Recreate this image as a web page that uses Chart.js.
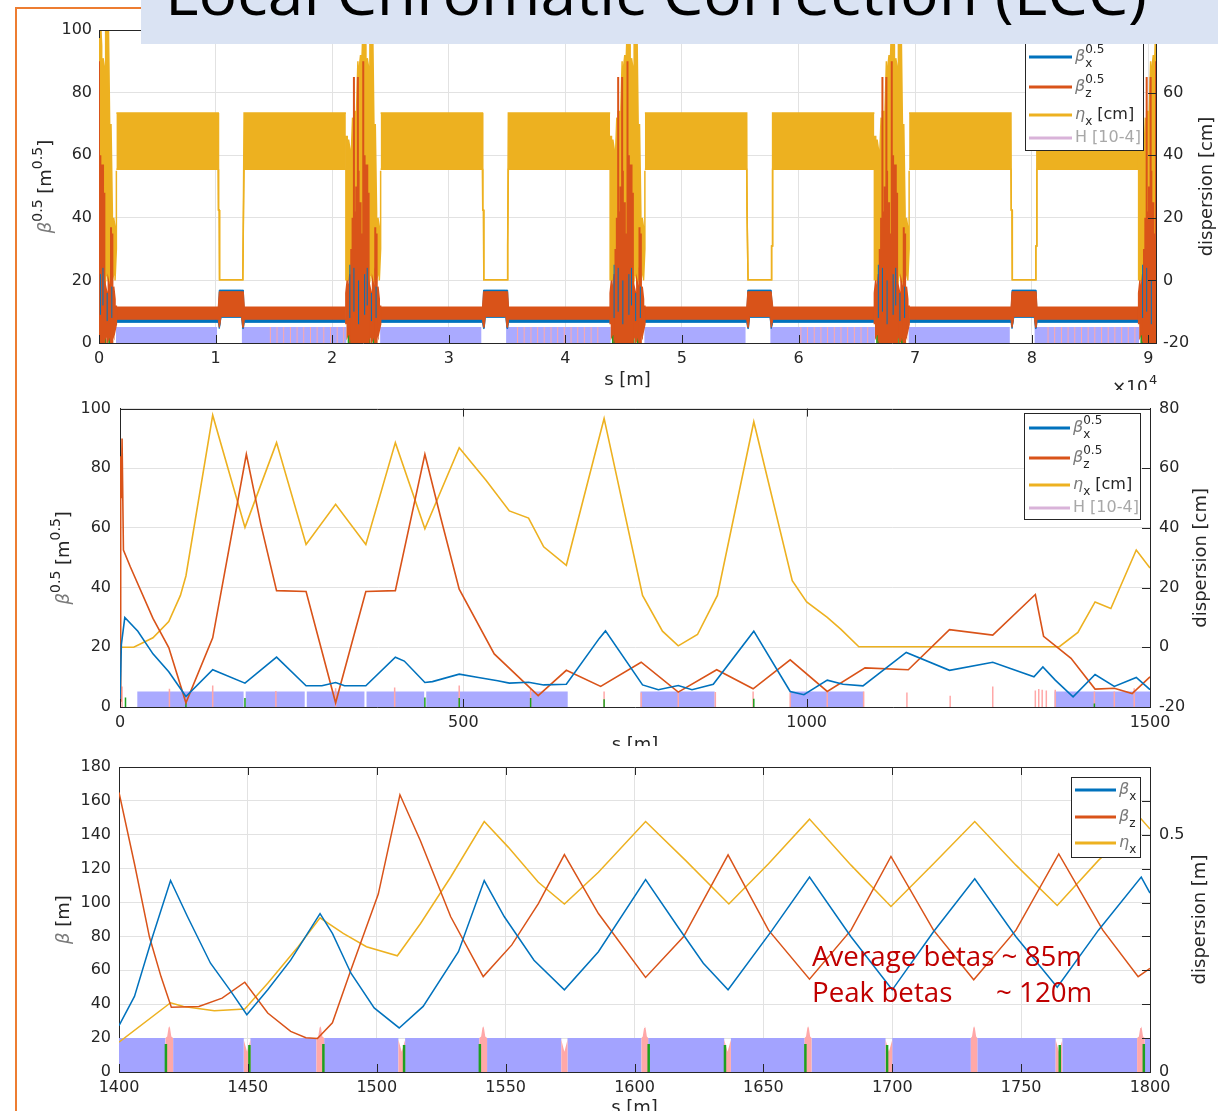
<!DOCTYPE html>
<html>
<head>
<meta charset="utf-8">
<title>Local Chromatic Correction (LCC)</title>
<script src="https://cdn.jsdelivr.net/npm/chart.js@4.4.1/dist/chart.umd.min.js"></script>
<style>
  html, body { margin: 0; padding: 0; background: #fff; width: 1218px; height: 1111px; overflow: hidden; }
  #frame { position: absolute; left: 15px; top: 7px; width: 3000px; height: 3000px;
           border-left: 2px solid #ed7d31; border-top: 2px solid #ed7d31; }
  canvas { position: absolute; left: 0; }
  #c1 { top: 0; } #c2 { top: 390px; } #c3 { top: 746px; }
  #head { left: 141px; top: 0; }
</style>
</head>
<body>
<div id="frame"></div>
<canvas id="c1" width="1218" height="390"></canvas>
<canvas id="c2" width="1218" height="356"></canvas>
<canvas id="c3" width="1218" height="365"></canvas>
<canvas id="head" width="1077" height="44"></canvas>
<script>
// ================= DATA =================
const TITLE = 'Local Chromatic Correction (LCC)';

// ---- top panel: full ring (s in m) ----
const ringLength = 90660;
const topXTicks = [0, 10000, 20000, 30000, 40000, 50000, 60000, 70000, 80000, 90000];
const topYTicks = [0, 20, 40, 60, 80, 100];
const topY2Ticks = [-20, 0, 20, 40, 60, 80];
const irCentres = [0, 22665, 45330, 67995, 90660];
const ssCentres = [11375, 34040, 56705, 79370];
const irHalf = 1490;
// arc values (band limits)
const arcEtaHi = 53.5, arcEtaLo = 35.5;     // cm
const arcBzHi = 11.5, arcBzLo = 7.6;        // m^0.5
const arcBxHi = 7.6, arcBxLo = 6.6;
// straight sections (offset from centre, m)
const ssEtaOff = [-1150, -1125, -1060, -1035, 960, 985, 1040, 1070];
const ssEtaHi  = [53.5, 22.5, 22.5, 0.2, 0.2, 11, 11, 53.5];
const ssEtaLo  = [35.5, 22.5, 22.5, 0.2, 0.2, 11, 11, 35.5];
const ssBOff   = [-1150, -1060, -1000, -900, 850, 950, 1010, 1090];
const ssBzHi   = [11.5, 16.4, 16.4, 16.4, 16.4, 16.4, 16.4, 11.5];
const ssBzLo   = [7.6, 5.0, 5.0, 8.5, 8.5, 5.0, 5.0, 7.6];
const ssBxHi   = [7.6, 16.9, 16.9, 16.9, 16.9, 16.9, 16.9, 7.6];
const ssBxLo   = [6.6, 4.6, 4.6, 8.2, 8.2, 4.6, 4.6, 6.6];
// interaction regions (offset from IP, m)
const irOff      = [-1490, -1375, -1260, -1145, -1030, -915, -800, -685, -570, -460, -345, -230, -115, 0, 115, 230, 345, 460, 570, 685, 800, 915, 1030, 1145, 1260, 1375, 1490];
const irEtaHi    = [46, 46, 45, 42, 40, 52, 54, 54, 55, 70, 68, 72, 70, 84, 84, 75, 71, 68, 84, 84, 84, 50, 50, 22, 20, 17, 35];
const irEtaLo    = [0, 0, 0, 0, 0, -2, 0, 2, 0, -2, 0, -4, 0, -2, 0, 2, 0, -2, 0, 2, 0, 0, 2, 0, 2, 0, 10];
const irBzBaseHi = [16, 20, 18, 22, 20, 18, 22, 20, 16, 20, 18, 14, 12, 16, 20, 18, 22, 20, 18, 16, 20, 18, 22, 20, 18, 14, 12];
const irBzBaseLo = [6, 2, 3, 1, 2, 0, 2, 1, 3, 0, 2, 1, 0, 1, 2, 0, 3, 1, 2, 0, 1, 2, 0, 3, 2, 4, 6];
const irBzPeakOff = [-1030, -915, -800, -740, -600, -460, -400, -230, -60, 0, 115, 230, 345, 460, 1030, 1145];
const irBzPeak    = [30, 40, 85, 42, 50, 85, 55, 45, 35, 90, 60, 57, 57, 48, 37, 35];
const irBxOff = [-1150, -800, -400, 120, 340, 700, 1100];
const irBxHi  = [25, 24, 20, 22, 24, 16, 18];
const irBxLo  = [8, 10, 6, 9, 12, 7, 8];
const irSextOff = [-1250, -1150, -1050, -450, -380, -300, 290, 400, 520, 880, 960];
const irSextH   = [3, 3, 3, 3, 3, 3, 3, 3, 3, 3, 3];
// lattice elements along the ring
const topDipStart = [1450, 12255, 24115, 34920, 46780, 57585, 69445, 80250];
const topDipEnd   = [10125, 21215, 32790, 43880, 55455, 66545, 78120, 89210];
const topDipH = 5.1;
const topQuadS = [14700, 15270, 15840, 16420, 16990, 17560, 18140, 18710, 19280, 19860, 20430, 20990,
                  35900, 36470, 37050, 37620, 38190, 38770, 39340, 39910, 40490, 41060, 41630, 42210, 42780,
                  60200, 60770, 61350, 61920, 62490, 63070, 63640, 64210, 64790, 65360, 65930,
                  81400, 81970, 82550, 83120, 83690, 84270, 84840, 85410, 85990, 86560, 87130, 87710, 88280, 88850];

// ---- middle panel: first 1500 m ----
const midXTicks = [0, 500, 1000, 1500];
const midYTicks = [0, 20, 40, 60, 80, 100];
const midY2Ticks = [-20, 0, 20, 40, 60, 80];
const midBxS = [0, 2, 7, 26, 48, 71, 96, 135, 182, 228, 271, 294, 314, 327, 358, 401, 414, 444, 455, 494, 522, 550, 567, 595, 617, 650, 698, 707, 761, 784, 813, 833, 864, 923, 976, 996, 1030, 1053, 1082, 1145, 1208, 1271, 1331, 1344, 1362, 1388, 1420, 1448, 1480, 1500];
const midBx  = [2, 21, 30, 25.4, 17.8, 11.8, 3.5, 12.5, 8, 16.7, 7.1, 7.1, 8.2, 7.1, 7.1, 16.7, 15.4, 8.2, 8.5, 11, 9.9, 8.8, 8, 8.3, 7.4, 7.6, 23, 25.5, 7.4, 5.8, 7.2, 5.8, 7.6, 25.4, 5.2, 4.1, 9, 7.6, 7.1, 18.3, 12.3, 15, 10.1, 13.4, 9, 3.4, 10.9, 6.9, 9.9, 5.8];
const midBzS = [0, 1, 2, 3, 5, 15, 48, 71, 96, 135, 184, 205, 228, 271, 314, 358, 401, 444, 467, 494, 545, 609, 650, 700, 759, 813, 869, 922, 976, 1030, 1085, 1148, 1208, 1271, 1333, 1345, 1385, 1420, 1448, 1474, 1500];
const midBz  = [2, 84, 70, 90, 52.6, 47, 29.7, 19.9, 1.4, 23.2, 84.7, 61.3, 39, 38.7, 1.4, 38.7, 39, 84.7, 63.5, 39.5, 17.8, 3.8, 12.3, 6.9, 15, 5, 12.5, 6.1, 15.8, 5.2, 13.1, 12.5, 25.9, 24.1, 37.7, 23.7, 16.3, 6, 6.3, 4.5, 10.1];
const midEtaS = [0, 20, 48, 71, 88, 96, 135, 182, 228, 271, 314, 358, 401, 444, 494, 533, 567, 595, 617, 650, 705, 761, 790, 813, 841, 870, 923, 979, 1000, 1030, 1050, 1076, 1368, 1395, 1420, 1443, 1480, 1500];
const midEta  = [0, 0, 3.2, 8.6, 17.4, 23.9, 77.8, 40.2, 68.6, 34.5, 47.9, 34.5, 68.6, 39.7, 66.9, 56, 45.7, 43.3, 33.7, 27.5, 76.7, 17.4, 5.4, 0.5, 4.3, 17.4, 75.6, 22.3, 15.2, 10, 6, 0.2, 0.2, 5, 15.2, 13, 32.6, 26.6];
const midDipStart = [25, 183, 272, 359, 446, 758, 976, 1361];
const midDipEnd   = [180, 269, 356, 443, 652, 866, 1083, 1500];
const midDipH = 5.2;
const midQuadS = [3, 72, 135, 227, 314, 400, 494, 598, 705, 759, 813, 867, 922, 976, 1030, 1083, 1146, 1209, 1271, 1333, 1338, 1343, 1349, 1362, 1419, 1448, 1477];
const midQuadH = [6.9, 6.1, 7.2, 5.4, 6.3, 6.5, 7.2, 6, 5.2, 4.9, 5.2, 5, 5.2, 4.9, 5.2, 5.2, 4.9, 3.8, 6.9, 5.5, 6, 5.8, 5.5, 5.8, 5.2, 5.2, 6.3];
const midSextS = [8, 96, 182, 444, 494, 598, 705, 923, 1419];
const midSextH = [3.2, 1.5, 3.0, 3.2, 3.0, 3.0, 2.6, 2.8, 1.2];

// ---- bottom panel: LCC cells 1400-1800 m ----
const botXTicks = [1400, 1450, 1500, 1550, 1600, 1650, 1700, 1750, 1800];
const botYTicks = [0, 20, 40, 60, 80, 100, 120, 140, 160, 180];
const botY2Ticks = [0, 0.0714, 0.1429, 0.2143, 0.2857, 0.3571, 0.4286, 0.5, 0.5714, 0.6429];
const botY2Labels = ['0', '', '', '', '', '', '', '0.5', '', ''];
const botBxS = [1400, 1406, 1413, 1420, 1426.6, 1435.5, 1443, 1449.6, 1457.7, 1466.6, 1478, 1482.8, 1490, 1499, 1508.7, 1518, 1531.7, 1541.7, 1549.5, 1561, 1572.8, 1586, 1604.3, 1616.8, 1626.7, 1636.3, 1653.4, 1667.9, 1684, 1700, 1716, 1732, 1748, 1764, 1780, 1796.6, 1800];
const botBx  = [27.4, 44.6, 79.8, 113, 91.6, 64.2, 48.5, 33.8, 48.5, 66, 93.5, 81.8, 58.3, 37.8, 26, 38.7, 71, 113, 91.6, 66, 48.5, 71, 113.5, 85.7, 64.2, 48.5, 83.7, 115, 79.8, 48.5, 82.8, 114, 79.8, 50, 83.7, 115, 105.6];
const botBzS = [1400, 1406, 1411.8, 1416.3, 1420.3, 1431, 1440, 1448.8, 1457.7, 1466.6, 1472.5, 1477, 1482.8, 1490, 1500.6, 1509, 1516.9, 1528.7, 1541.3, 1552.4, 1562.7, 1572.8, 1586, 1604.3, 1619, 1636.3, 1652, 1667.9, 1684, 1699.5, 1716, 1731.6, 1748, 1764.6, 1781.7, 1795.4, 1800];
const botBz  = [165, 122.9, 79.8, 56.3, 38.2, 38.7, 43.6, 53, 34.8, 24, 20.2, 19.8, 29, 60.3, 105, 163.6, 136.6, 91.6, 56.3, 75, 99.4, 128.3, 93.5, 55.8, 79.8, 128.2, 83.7, 54.8, 83.7, 127.2, 83.7, 54.4, 83.7, 128.7, 83.7, 56.3, 61.2];
const botEtaS = [1400, 1420, 1425, 1437, 1448.8, 1457.7, 1469.5, 1478, 1487, 1496, 1508, 1517, 1528.7, 1541.7, 1551, 1562.7, 1572.8, 1586, 1604.3, 1619.8, 1636.6, 1652, 1667.9, 1684, 1699.5, 1716, 1732, 1748, 1764, 1780, 1796.6, 1800];
const botEta  = [0.063, 0.146, 0.138, 0.129, 0.133, 0.187, 0.264, 0.325, 0.292, 0.264, 0.245, 0.313, 0.411, 0.528, 0.474, 0.4, 0.354, 0.421, 0.528, 0.446, 0.354, 0.439, 0.533, 0.436, 0.349, 0.439, 0.528, 0.436, 0.351, 0.446, 0.533, 0.512];
const botDipStart = [1400, 1421, 1451, 1479.6, 1511, 1542.8, 1574, 1605.3, 1637.4, 1668.7, 1700, 1733, 1766, 1798];
const botDipEnd   = [1418, 1448.4, 1476.6, 1508.4, 1539.8, 1571.6, 1602.7, 1634.8, 1666, 1697.4, 1730.5, 1763.4, 1795, 1800];
const botDipH = 20;
const botQfStart = [1418, 1476.6, 1539.8, 1602.7, 1666, 1730.5, 1795];
const botQfEnd   = [1421, 1479.6, 1542.8, 1605.3, 1668.7, 1733, 1798];
const botQfPeak = 27, botQfBody = 20;
const botQdStart = [1448.4, 1508.4, 1571.6, 1634.8, 1697.4, 1763.4];
const botQdEnd   = [1451, 1511, 1574, 1637.4, 1700, 1766];
const botQdTop = 19, botQdDip = 12;
const botSextS = [1418.2, 1450.6, 1479.3, 1510.6, 1540, 1605.5, 1635.1, 1666.3, 1698, 1765, 1797.6];
const botSextH = [16.5, 16, 16.5, 16, 16.5, 16.5, 16, 16.5, 16, 16, 16.5];

// ================= STYLE =================
const BLUE = '#0072bd', RED = '#d95319', YEL = '#edb120', HCOL = '#d9b3d9';
const AXIS = '#262626', GRID = '#e2e2e2';
const DIP_TOP = '#aaaaff', DIP_BOT = '#a3a3ff', QUAD = '#ffa8a8', SEXT = '#1ea01e';
const FONT = '"DejaVu Sans", sans-serif';

// ================= BUILDERS =================
const pts = (xs, ys) => xs.map((x, i) => ({ x, y: ys[i] }));

// band edge running through every arc, with the straight-section profile in the middle
function arcEdge(bandVal, offs, vals) {
  const out = [];
  for (let k = 0; k < ssCentres.length; k++) {
    out.push({ x: irCentres[k] + irHalf, y: bandVal });
    offs.forEach((o, j) => out.push({ x: ssCentres[k] + o, y: vals[j] }));
    out.push({ x: irCentres[k + 1] - irHalf, y: bandVal });
    out.push({ x: irCentres[k + 1] - irHalf, y: null });
  }
  return out;
}
// dense comb through each interaction region
function irComb(offs, hi, lo) {
  const out = [];
  irCentres.forEach(c => {
    offs.forEach((o, j) => {
      if (j % 2 === 0) out.push({ x: c + o, y: lo[j] }, { x: c + o, y: hi[j] });
      else out.push({ x: c + o, y: hi[j] }, { x: c + o, y: lo[j] });
    });
    out.push({ x: c + offs[offs.length - 1], y: null });
  });
  return out;
}
// isolated vertical strokes
function strokes(xs, hi, lo) {
  const out = [];
  xs.forEach((x, i) => {
    out.push({ x, y: lo ? lo[i] : 0 }, { x, y: hi[i] }, { x, y: null });
  });
  return out;
}
function irStrokes(offs, hi, lo) {
  const xs = [], h = [], l = [];
  irCentres.forEach(c => offs.forEach((o, j) => { xs.push(c + o); h.push(hi[j]); l.push(lo ? lo[j] : 0); }));
  return strokes(xs, h, l);
}
// rectangular element blocks, filled down to zero
function blocks(starts, ends, h) {
  const out = [];
  starts.forEach((s, i) => {
    out.push({ x: s, y: 0 }, { x: s, y: h }, { x: ends[i], y: h }, { x: ends[i], y: 0 });
  });
  return out;
}
function qfShapes() {
  const out = [];
  botQfStart.forEach((s, i) => {
    const e = botQfEnd[i], m = (s + e) / 2;
    out.push({ x: s, y: 0 }, { x: s, y: botQfBody }, { x: m - 0.8, y: botQfBody + 1 },
             { x: m - 0.3, y: botQfPeak - 1 }, { x: m, y: botQfPeak }, { x: m + 0.3, y: botQfPeak - 1 },
             { x: m + 0.8, y: botQfBody + 1 }, { x: e, y: botQfBody }, { x: e, y: 0 });
  });
  return out;
}
function qdShapes() {
  const out = [];
  botQdStart.forEach((s, i) => {
    const e = botQdEnd[i], m = (s + e) / 2;
    out.push({ x: s, y: 0 }, { x: s, y: botQdTop }, { x: m, y: botQdDip }, { x: e, y: botQdTop }, { x: e, y: 0 });
  });
  return out;
}

function ds(data, color, width, order, extra) {
  return Object.assign({
    type: 'line', data, borderColor: color, backgroundColor: color, borderWidth: width,
    pointRadius: 0, pointHoverRadius: 0, tension: 0, fill: false, order, yAxisID: 'y',
    spanGaps: false, borderJoinStyle: 'miter'
  }, extra || {});
}
function area(data, color, order, extra) {
  return ds(data, color, 0, order, Object.assign({ fill: 'origin', backgroundColor: color }, extra || {}));
}

// ================= RICH TEXT =================
function setFont(ctx, p, base) {
  ctx.font = (p.it ? 'italic ' : '') + (p.sz || base) + 'px ' + FONT;
}
function richWidth(ctx, parts, base) {
  let w = 0;
  parts.forEach(p => { setFont(ctx, p, base); if (p.adv !== false) w += ctx.measureText(p.t).width; });
  return w;
}
function drawRich(ctx, x, y, parts, base) {
  let cx = x;
  ctx.textBaseline = 'middle'; ctx.textAlign = 'left';
  parts.forEach(p => {
    setFont(ctx, p, base);
    ctx.fillStyle = p.c || AXIS;
    ctx.fillText(p.t, cx, y + (p.dy || 0));
    if (p.adv !== false) cx += ctx.measureText(p.t).width;
  });
}
const GREEK = '#7a7a7a';
const betaSqrt = sub => [{ t: 'β', it: true, c: GREEK }, { t: sub, sz: 12, dy: 7, adv: false }, { t: '0.5', sz: 12, dy: -7 }];
const betaPlain = sub => [{ t: 'β', it: true, c: GREEK }, { t: sub, sz: 12, dy: 7 }];
const etaLabel = (unit) => [{ t: 'η', it: true, c: GREEK }, { t: 'x', sz: 12, dy: 7 }].concat(unit ? [{ t: ' ' + unit }] : []);

// ================= PLUGIN: axes box, inward ticks, titles, legend =================
const decor = {
  id: 'decor',
  afterDatasetsDraw(chart, args, o) {
    const { ctx, chartArea: a, scales } = chart;
    ctx.save();
    ctx.strokeStyle = AXIS; ctx.lineWidth = 1;
    ctx.beginPath();
    ctx.moveTo(a.left, Math.round(a.top) + 0.5); ctx.lineTo(a.right, Math.round(a.top) + 0.5);
    scales.x.ticks.forEach(t => {
      const px = Math.round(scales.x.getPixelForValue(t.value)) + 0.5;
      ctx.moveTo(px, a.bottom); ctx.lineTo(px, a.bottom - 8);
      ctx.moveTo(px, a.top); ctx.lineTo(px, a.top + 8);
    });
    scales.y2.ticks.forEach(t => {
      const py = Math.round(scales.y2.getPixelForValue(t.value)) + 0.5;
      ctx.moveTo(a.right, py); ctx.lineTo(a.right - 8, py);
    });
    ctx.stroke();
    ctx.restore();
  },
  afterDraw(chart, args, o) {
    const { ctx, chartArea: a } = chart;
    ctx.save();
    const midY = (a.top + a.bottom) / 2, midX = (a.left + a.right) / 2;
    // left title
    ctx.save();
    ctx.translate(o.yTitleX, midY); ctx.rotate(-Math.PI / 2);
    const wl = richWidth(ctx, o.yTitle, 18);
    drawRich(ctx, -wl / 2, 0, o.yTitle, 18);
    ctx.restore();
    // right title
    ctx.save();
    ctx.translate(o.y2TitleX, midY); ctx.rotate(-Math.PI / 2);
    ctx.font = '18px ' + FONT; ctx.fillStyle = AXIS; ctx.textAlign = 'center'; ctx.textBaseline = 'middle';
    ctx.fillText(o.y2Title, 0, 0);
    ctx.restore();
    // x title
    ctx.font = '18px ' + FONT; ctx.fillStyle = AXIS; ctx.textAlign = 'center'; ctx.textBaseline = 'middle';
    ctx.fillText('s [m]', midX, a.bottom + o.xTitleDy);
    if (o.exponent) {
      ctx.textAlign = 'left'; ctx.textBaseline = 'alphabetic';
      ctx.font = '17px ' + FONT; ctx.fillText('×10', o.exponent[0], o.exponent[1]);
      const w = ctx.measureText('×10').width;
      ctx.font = '13px ' + FONT; ctx.fillText('4', o.exponent[0] + w + 1, o.exponent[1] - 9);
    }
    // legend
    const L = o.legend;
    ctx.fillStyle = '#fff'; ctx.fillRect(L.box[0], L.box[1], L.box[2] - L.box[0], L.box[3] - L.box[1]);
    ctx.strokeStyle = AXIS; ctx.lineWidth = 1;
    ctx.strokeRect(L.box[0] + 0.5, L.box[1] + 0.5, L.box[2] - L.box[0], L.box[3] - L.box[1]);
    L.items.forEach(it => {
      ctx.strokeStyle = it.color; ctx.lineWidth = 3;
      ctx.beginPath(); ctx.moveTo(L.line[0], it.y); ctx.lineTo(L.line[1], it.y); ctx.stroke();
      drawRich(ctx, L.textX, it.y, it.parts, 16);
    });
    // note
    if (o.note) {
      const n = o.note;
      ctx.fillStyle = '#c00000'; ctx.textBaseline = 'alphabetic'; ctx.textAlign = 'left';
      ctx.font = '28px "Open Sans", sans-serif';
      const sx = n.width / ctx.measureText(n.lines[0]).width;
      n.rows.forEach(r => {
        ctx.save(); ctx.translate(r[1], r[2]); ctx.scale(sx, 1);
        ctx.fillText(r[0], 0, 0); ctx.restore();
      });
    }
    ctx.restore();
  }
};

// ================= CHART FACTORY =================
function axisOpts(min, max, ticks, labelFn, pos, size, pad, grid) {
  return {
    type: 'linear', position: pos, min, max,
    afterBuildTicks: ax => { ax.ticks = ticks.map(v => ({ value: v })); },
    afterFit: s => { if (pos === 'bottom') s.height = size; else s.width = size; },
    ticks: { callback: labelFn, color: AXIS, font: { family: FONT, size: 16 }, padding: pad, autoSkip: false, maxRotation: 0, minRotation: 0 },
    grid: { display: grid, color: GRID, lineWidth: 1, drawTicks: false },
    border: { display: true, color: AXIS, width: 1 }
  };
}
function makeChart(id, cfg) {
  return new Chart(document.getElementById(id), {
    type: 'line',
    data: { datasets: cfg.datasets },
    options: {
      responsive: false, animation: false, events: [],
      layout: { autoPadding: false, padding: { top: cfg.padTop, left: 0, right: 0, bottom: 0 } },
      scales: { x: cfg.x, y: cfg.y, y2: cfg.y2 },
      plugins: { legend: { display: false }, tooltip: { enabled: false }, decor: cfg.decor }
    },
    plugins: [decor]
  });
}

// ---------- top panel ----------
makeChart('c1', {
  padTop: 30,
  x: axisOpts(0, ringLength, topXTicks, v => String(Math.round(v / 10000)), 'bottom', 47, 6, true),
  y: axisOpts(0, 100, topYTicks, v => String(v), 'left', 99, 7, true),
  y2: axisOpts(-20, 80, topY2Ticks, v => String(v), 'right', 62, 7, false),
  datasets: [
    area(blocks(topDipStart, topDipEnd, topDipH), DIP_TOP, 100),
    ds(strokes(topQuadS, topQuadS.map(() => topDipH)), QUAD, 1, 95),
    ds(irStrokes(irSextOff, irSextH), SEXT, 2, 94),
    ds(arcEdge(arcEtaHi, ssEtaOff, ssEtaHi), YEL, 1.5, 80, { yAxisID: 'y2', fill: '+1', backgroundColor: YEL }),
    ds(arcEdge(arcEtaLo, ssEtaOff, ssEtaLo), YEL, 1.5, 80, { yAxisID: 'y2' }),
    ds(irComb(irOff, irEtaHi, irEtaLo), YEL, 1.5, 78, { yAxisID: 'y2' }),
    ds(arcEdge(arcBxHi, ssBOff, ssBxHi), BLUE, 1, 70, { fill: '+1', backgroundColor: BLUE }),
    ds(arcEdge(arcBxLo, ssBOff, ssBxLo), BLUE, 1, 70),
    ds(arcEdge(arcBzHi, ssBOff, ssBzHi), RED, 1, 60, { fill: '+1', backgroundColor: RED }),
    ds(arcEdge(arcBzLo, ssBOff, ssBzLo), RED, 1, 60),
    ds(irComb(irOff, irBzBaseHi, irBzBaseLo), RED, 1.5, 58),
    ds(irStrokes(irBzPeakOff, irBzPeak), RED, 2, 56),
    ds(irStrokes(irBxOff, irBxHi, irBxLo), BLUE, 1, 50)
  ],
  decor: {
    yTitle: [{ t: 'β', it: true, c: GREEK }, { t: '0.5', sz: 14, dy: -8 }, { t: ' [m' }, { t: '0.5', sz: 14, dy: -8 }, { t: ']' }],
    yTitleX: 46, y2Title: 'dispersion [cm]', y2TitleX: 1207, xTitleDy: 37,
    exponent: [1112, 393],
    legend: {
      box: [1025, 30, 1143, 150], line: [1029, 1072], textX: 1075,
      items: [
        { y: 57, color: BLUE, parts: betaSqrt('x') },
        { y: 87, color: RED, parts: betaSqrt('z') },
        { y: 115, color: YEL, parts: etaLabel('[cm]') },
        { y: 138, color: HCOL, parts: [{ t: 'H [10-4]', c: '#a8a8a8' }] }
      ]
    }
  }
});

// ---------- middle panel ----------
const OFF2 = 390;
makeChart('c2', {
  padTop: 401 - OFF2,
  x: axisOpts(0, 1500, midXTicks, v => String(v), 'bottom', 39, 6, true),
  y: axisOpts(0, 100, midYTicks, v => String(v), 'left', 120, 9, true),
  y2: axisOpts(-20, 80, midY2Ticks, v => String(v), 'right', 68, 9, false),
  datasets: [
    area(blocks(midDipStart, midDipEnd, midDipH), DIP_TOP, 100),
    ds(strokes(midQuadS, midQuadH), QUAD, 1.5, 95),
    ds(strokes(midSextS, midSextH), SEXT, 1.5, 94),
    ds(pts(midEtaS, midEta), YEL, 1.6, 60, { yAxisID: 'y2' }),
    ds(pts(midBzS, midBz), RED, 1.6, 55),
    ds(pts(midBxS, midBx), BLUE, 1.6, 50)
  ],
  decor: {
    yTitle: [{ t: 'β', it: true, c: GREEK }, { t: '0.5', sz: 14, dy: -8 }, { t: ' [m' }, { t: '0.5', sz: 14, dy: -8 }, { t: ']' }],
    yTitleX: 64, y2Title: 'dispersion [cm]', y2TitleX: 1201, xTitleDy: 38,
    legend: {
      box: [1024, 413 - OFF2, 1140, 519 - OFF2], line: [1029, 1070], textX: 1073,
      items: [
        { y: 428 - OFF2, color: BLUE, parts: betaSqrt('x') },
        { y: 458 - OFF2, color: RED, parts: betaSqrt('z') },
        { y: 485 - OFF2, color: YEL, parts: etaLabel('[cm]') },
        { y: 508 - OFF2, color: HCOL, parts: [{ t: 'H [10-4]', c: '#a8a8a8' }] }
      ]
    }
  }
});

// ---------- bottom panel ----------
const OFF3 = 746;
makeChart('c3', {
  padTop: 767 - OFF3,
  x: axisOpts(1400, 1800, botXTicks, v => String(v), 'bottom', 39, 6, true),
  y: axisOpts(0, 180, botYTicks, v => String(v), 'left', 119, 8, true),
  y2: axisOpts(0, 0.642857, botY2Ticks, (v, i) => botY2Labels[i], 'right', 68, 9, false),
  datasets: [
    area(blocks(botDipStart, botDipEnd, botDipH), DIP_BOT, 100),
    area(qfShapes(), QUAD, 98),
    area(qdShapes(), QUAD, 98),
    ds(strokes(botSextS, botSextH), SEXT, 2.5, 94),
    ds(pts(botEtaS, botEta), YEL, 1.5, 60, { yAxisID: 'y2' }),
    ds(pts(botBzS, botBz), RED, 1.5, 55),
    ds(pts(botBxS, botBx), BLUE, 1.5, 50)
  ],
  decor: {
    yTitle: [{ t: 'β', it: true, c: GREEK }, { t: ' [m]' }],
    yTitleX: 64, y2Title: 'dispersion [m]', y2TitleX: 1200, xTitleDy: 36,
    legend: {
      box: [1071, 777 - OFF3, 1140, 857 - OFF3], line: [1075, 1116], textX: 1119,
      items: [
        { y: 790 - OFF3, color: BLUE, parts: betaPlain('x') },
        { y: 817 - OFF3, color: RED, parts: betaPlain('z') },
        { y: 843 - OFF3, color: YEL, parts: etaLabel('') }
      ]
    },
    note: {
      width: 270,
      lines: ['Average betas ~ 85m'],
      rows: [['Average betas ~ 85m', 812, 966 - OFF3], ['Peak betas', 812, 1002 - OFF3], ['~ 120m', 996, 1002 - OFF3]]
    }
  }
});

// ---------- heading ----------
(function () {
  const c = document.getElementById('head'), x = c.getContext('2d');
  x.fillStyle = '#dae3f3'; x.fillRect(0, 0, c.width, c.height);
  x.font = '60px "Open Sans", sans-serif';
  const sx = 982 / x.measureText(TITLE).width;
  x.save(); x.translate(24, 15); x.scale(sx, 1);
  x.fillStyle = '#000'; x.textBaseline = 'alphabetic'; x.fillText(TITLE, 0, 0);
  x.restore();
})();
</script>
</body>
</html>
